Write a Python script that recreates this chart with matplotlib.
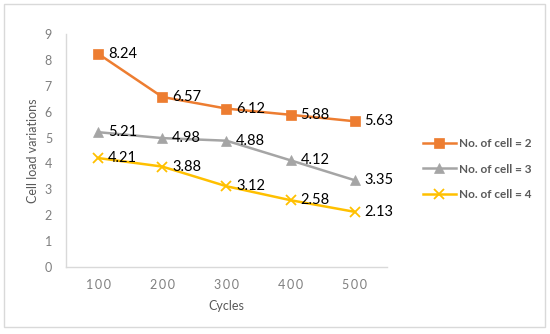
import numpy as np
import matplotlib.pyplot as plt
from matplotlib.patches import Rectangle

plt.rcParams['font.family'] = ['Lato', 'DejaVu Sans']

cycles = ['100', '200', '300', '400', '500']
cell2 = [8.24, 6.57, 6.12, 5.88, 5.63]
cell3 = [5.21, 4.98, 4.88, 4.12, 3.35]
cell4 = [4.21, 3.88, 3.12, 2.58, 2.13]
labels = ['No. of cell = 2', 'No. of cell = 3', 'No. of cell = 4']

fig = plt.figure(figsize=(5.5, 3.34), dpi=100)
fig.patches.append(Rectangle((4 / 550, 7 / 334), 541 / 550, 323 / 334,
                             transform=fig.transFigure, fill=False,
                             edgecolor='#d9d9d9', linewidth=1.0))
ax = fig.add_axes([0.12, 0.2006, 0.5836, 0.6974])

x = np.arange(1, len(cycles) + 1)
series = [
    (cell2, '#ED7D31', 's', 7),
    (cell3, '#A5A5A5', '^', 7),
    (cell4, '#FFC000', 'x', 7),
]
for (vals, col, mk, ms), lab in zip(series, labels):
    ax.plot(x, vals, color=col, marker=mk, markersize=ms, linewidth=1.8,
            markeredgewidth=1.3 if mk == 'x' else 0.5, label=lab)
    for xi, v in zip(x, vals):
        ax.annotate(f'{v:.2f}', (xi, v), xytext=(7, 0), textcoords='offset points',
                    ha='left', va='center', fontsize=10.5, color='black')

ax.set_xlim(0.5, 5.5)
ax.set_ylim(0, 9)
ax.set_yticks(range(0, 10))
ax.set_xticks(x)
ax.set_xticklabels(['\u2009'.join(c) for c in cycles])
for s in ['top', 'right']:
    ax.spines[s].set_visible(False)
for s in ['left', 'bottom']:
    ax.spines[s].set_color('#d9d9d9')
    ax.spines[s].set_linewidth(1.0)
ax.tick_params(length=0, colors='#7f7f7f', labelsize=9)
ax.tick_params(axis='x', pad=9)
ax.tick_params(axis='y', pad=10)
ax.set_xlabel('Cycles', fontsize=9, color='#595959', labelpad=6)
ax.set_ylabel('Cell load variations', fontsize=9, color='#595959', labelpad=4)

leg = ax.legend(loc='upper left', bbox_to_anchor=(1.078, 0.60), frameon=False,
                fontsize=8.5, handlelength=2.8, labelspacing=1.25, handletextpad=0.3)
for t in leg.get_texts():
    t.set_color('#595959')
    t.set_fontweight('bold')

fig.savefig('out.png', dpi=100)
